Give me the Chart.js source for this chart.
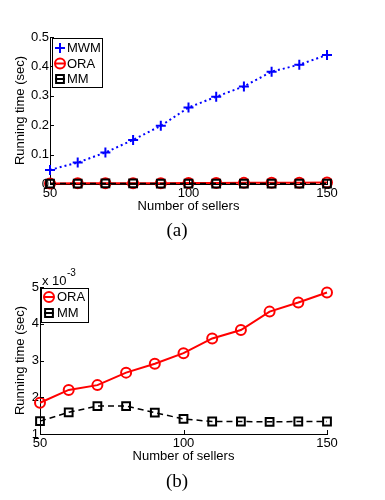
<!DOCTYPE html>
<html><head><meta charset="utf-8">
<script src="https://cdn.jsdelivr.net/npm/chart.js@4/dist/chart.umd.min.js"></script>
<style>
html,body{margin:0;padding:0;background:#fff;width:385px;height:500px;overflow:hidden;}
canvas{position:absolute;left:0;}
#ca{top:0px} #cb{top:250px}
.cap{position:absolute;left:0;width:354px;text-align:center;font-family:"Liberation Serif",serif;font-size:19px;line-height:20px;color:#000;}
#capa{top:220px} #capb{top:471px}
</style></head><body>
<canvas id="ca" width="385" height="250"></canvas>
<canvas id="cb" width="385" height="250"></canvas>
<div class="cap" id="capa">(a)</div>
<div class="cap" id="capb">(b)</div>
<script>
// ---- data ----
const sellers = [50, 60, 70, 80, 90, 100, 110, 120, 130, 140, 150];
const mwmTimes = [0.048, 0.073, 0.107, 0.150, 0.198, 0.260, 0.297, 0.332, 0.382, 0.406, 0.439]; // sec
const oraTimesE3 = [1.85, 2.20, 2.33, 2.67, 2.91, 3.20, 3.60, 3.83, 4.33, 4.58, 4.85]; // x 10^-3 sec
const mmTimesE3  = [1.35, 1.59, 1.76, 1.76, 1.58, 1.41, 1.34, 1.34, 1.33, 1.34, 1.34]; // x 10^-3 sec
const xTickVals = [50, 100, 150];
const yTickValsA = [0, 0.1, 0.2, 0.3, 0.4, 0.5];
const yTickValsB = [1, 2, 3, 4, 5];
const xLabel = 'Number of sellers';
const yLabel = 'Running time (sec)';

const FONT = 'Liberation Sans';
const pts = (ys, scale) => sellers.map((x, i) => ({x: x, y: ys[i] * scale}));

const styleMWM = {label:'MWM', borderColor:'#0000ff', borderWidth:2, borderDash:[2,3], pointStyle:'cross', pointRadius:5, pointBorderWidth:2, pointBorderColor:'#0000ff', pointBackgroundColor:'rgba(0,0,0,0)', tension:0, clip:false, order:0};
const styleORA = {label:'ORA', borderColor:'#ff0000', borderWidth:2, pointStyle:'circle', pointRadius:5, pointBorderWidth:2, pointBorderColor:'#ff0000', pointBackgroundColor:'rgba(0,0,0,0)', tension:0, clip:false, order:2};
const styleMM  = {label:'MM', borderColor:'#000000', borderWidth:1.5, borderDash:[6,4], pointStyle:'rect', pointRadius:5.5, pointBorderWidth:2, pointBorderColor:'#000000', pointBackgroundColor:'rgba(0,0,0,0)', tension:0, clip:false, order:1};

function marker(ctx, kind, color, x, y){
  ctx.save();
  ctx.strokeStyle = color; ctx.lineWidth = 2; ctx.setLineDash([]);
  ctx.beginPath(); ctx.moveTo(x-5, y); ctx.lineTo(x+5, y); ctx.stroke();
  ctx.beginPath();
  if (kind === 'cross') { ctx.moveTo(x, y-5); ctx.lineTo(x, y+5); }
  else if (kind === 'circle') { ctx.arc(x, y, 5, 0, Math.PI*2); }
  else { ctx.rect(x-3.9, y-3.9, 7.8, 7.8); }
  ctx.stroke();
  ctx.restore();
}

function overlay(o){
  return { id:'ov_'+o.name, afterDraw(chart){
    const ctx = chart.ctx, xs = chart.scales.x, ys = chart.scales.y, ca = chart.chartArea;
    ctx.save();
    ctx.strokeStyle = '#000'; ctx.lineWidth = 1; ctx.setLineDash([]);
    o.yTicks.forEach(v => { const y = Math.round(ys.getPixelForValue(v)) + 0.5; ctx.beginPath(); ctx.moveTo(ca.left, y); ctx.lineTo(ca.left + 4, y); ctx.stroke(); });
    xTickVals.forEach(v => { const x = Math.round(xs.getPixelForValue(v)) + 0.5; ctx.beginPath(); ctx.moveTo(x, ca.bottom); ctx.lineTo(x, ca.bottom - 4); ctx.stroke(); });
    ctx.fillStyle = '#000'; ctx.font = '13px ' + FONT; ctx.textAlign = 'center'; ctx.textBaseline = 'middle';
    ctx.fillText(xLabel, (ca.left + ca.right) / 2, ca.bottom + 22);
    ctx.save(); ctx.translate(20, (ca.top + ca.bottom) / 2); ctx.rotate(-Math.PI / 2); ctx.fillText(yLabel, 0, 0); ctx.restore();
    // legend
    const L = o.legend;
    ctx.fillStyle = '#fff'; ctx.fillRect(L.x, L.y, L.w, L.h);
    ctx.strokeStyle = '#000'; ctx.lineWidth = 1; ctx.strokeRect(L.x + 0.5, L.y + 0.5, L.w, L.h);
    L.items.forEach((it, i) => {
      const yy = L.y0 + i * L.dy;
      marker(ctx, it.kind, it.color, L.mx, yy);
      ctx.fillStyle = '#000'; ctx.textAlign = 'left'; ctx.textBaseline = 'middle'; ctx.font = '13px ' + FONT;
      ctx.fillText(it.text, L.tx, yy + 0.5);
    });
    if (o.exp) {
      ctx.textAlign = 'left'; ctx.textBaseline = 'middle';
      ctx.font = '13px ' + FONT; ctx.fillText('x 10', 42, 31.5);
      ctx.font = '10px ' + FONT; ctx.fillText('-3', 67, 23);
    }
    ctx.restore();
  }};
}

function makeChart(id, datasets, yMin, yMax, yTicks, leftW, o){
  return new Chart(document.getElementById(id), {
    type: 'line',
    data: { datasets: datasets },
    options: {
      responsive: false, animation: false, devicePixelRatio: 1,
      layout: { padding: { left: 0, right: 58, top: 37, bottom: 0 } },
      plugins: { legend: { display: false }, tooltip: { enabled: false } },
      scales: {
        x: { type: 'linear', min: 50, max: 150,
             afterBuildTicks: s => { s.ticks = xTickVals.map(v => ({ value: v })); },
             grid: { display: false, drawTicks: false },
             border: { display: true, color: '#000', width: 1 },
             ticks: { padding: 2, color: '#000', font: { family: FONT, size: 13 }, maxRotation: 0, autoSkip: false },
             afterFit: s => { s.height = 66; } },
        y: { type: 'linear', min: yMin, max: yMax,
             afterBuildTicks: s => { s.ticks = yTicks.map(v => ({ value: v })); },
             grid: { display: false, drawTicks: false },
             border: { display: true, color: '#000', width: 1 },
             ticks: { padding: 1, color: '#000', font: { family: FONT, size: 13 }, autoSkip: false,
                      callback: v => String(+(+v).toFixed(1)) },
             afterFit: s => { s.width = leftW; } }
      }
    },
    plugins: [overlay(o)]
  });
}

makeChart('ca', [
  Object.assign({ data: pts(mwmTimes, 1) }, styleMWM),
  Object.assign({ data: pts(oraTimesE3, 1e-3) }, styleORA),
  Object.assign({ data: pts(mmTimesE3, 1e-3) }, styleMM)
], 0, 0.5, yTickValsA, 50, {
  name: 'a', yTicks: yTickValsA, exp: false,
  legend: { x: 52, y: 38, w: 50, h: 49, mx: 60, tx: 67, y0: 48, dy: 15.5,
    items: [ {kind:'cross', color:'#0000ff', text:'MWM'}, {kind:'circle', color:'#ff0000', text:'ORA'}, {kind:'rect', color:'#000', text:'MM'} ] }
});

makeChart('cb', [
  Object.assign({ data: pts(oraTimesE3, 1) }, styleORA),
  Object.assign({ data: pts(mmTimesE3, 1) }, styleMM)
], 1, 5, yTickValsB, 40, {
  name: 'b', yTicks: yTickValsB, exp: true,
  legend: { x: 41, y: 38, w: 47, h: 34, mx: 49, tx: 57, y0: 47, dy: 16,
    items: [ {kind:'circle', color:'#ff0000', text:'ORA'}, {kind:'rect', color:'#000', text:'MM'} ] }
});
</script>
</body></html>
